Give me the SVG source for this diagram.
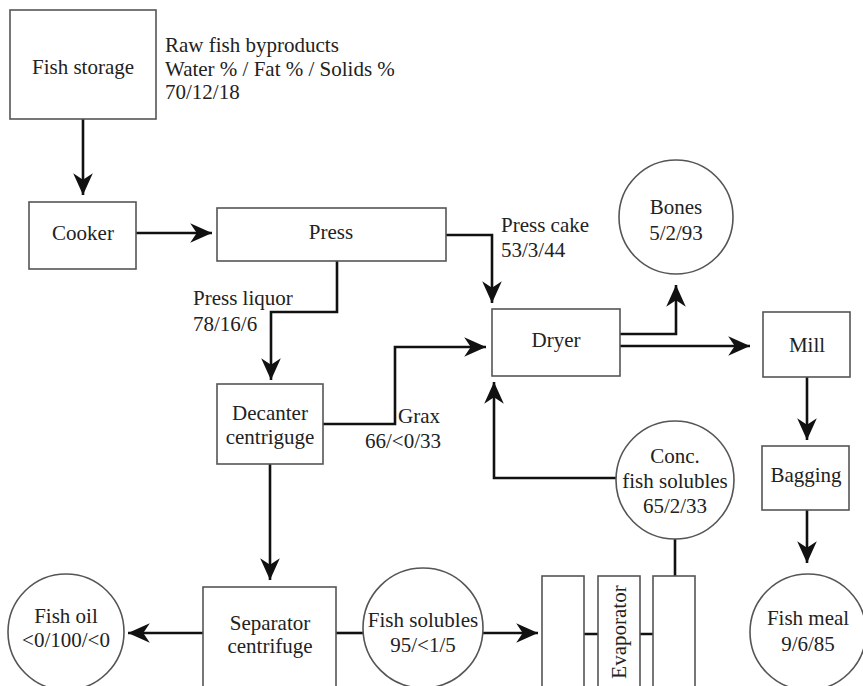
<svg xmlns="http://www.w3.org/2000/svg" width="863" height="686" viewBox="0 0 863 686">
<defs>
<style>
.box{fill:#fff;stroke:#555;stroke-width:1.6}
.c{fill:none;stroke:#111;stroke-width:2.6}
.t{font-family:"Liberation Serif","Times New Roman","DejaVu Serif",serif;font-size:21px;fill:#222}
.m{text-anchor:middle}
</style>
<marker id="ah" markerUnits="userSpaceOnUse" markerWidth="24" markerHeight="24" viewBox="-20 -10 22 20" refX="0" refY="0" orient="auto">
<path d="M0,0 L-20,-9 L-14,0 L-20,9 Z" fill="#111"/>
</marker>
</defs>
<rect width="863" height="686" fill="#fff"/>
<g id="connectors">
<path class="c" d="M83,119 V195" marker-end="url(#ah)"/>
<path class="c" d="M136,233 H212" marker-end="url(#ah)"/>
<path class="c" d="M446,235 H492 V303" marker-end="url(#ah)"/>
<path class="c" d="M337,261 V312 H271 V380" marker-end="url(#ah)"/>
<path class="c" d="M323,424 H395 V347 H486" marker-end="url(#ah)"/>
<path class="c" d="M620,334 H676 V285" marker-end="url(#ah)"/>
<path class="c" d="M620,346 H750" marker-end="url(#ah)"/>
<path class="c" d="M807,377 V440" marker-end="url(#ah)"/>
<path class="c" d="M807,510 V563" marker-end="url(#ah)"/>
<path class="c" d="M616,478 H494 V382" marker-end="url(#ah)"/>
<path class="c" d="M270,464 V580" marker-end="url(#ah)"/>
<path class="c" d="M203,633 H128" marker-end="url(#ah)"/>
<path class="c" d="M336,633 H363" stroke-width="2"/>
<path class="c" d="M483,633 H538" marker-end="url(#ah)"/>
<path class="c" d="M675,539 V576" stroke-width="2"/>
<path class="c" d="M584,634 H598 M640,634 H653" stroke-width="2"/>
</g>
<g id="fish-storage"><rect class="box" x="10" y="10" width="146" height="109"/><text class="t m" x="83" y="74">Fish storage</text></g>
<g id="raw-label"><text class="t" x="165" y="52">Raw fish byproducts</text><text class="t" x="165" y="76">Water % / Fat % / Solids %</text><text class="t" x="165" y="99">70/12/18</text></g>
<g id="cooker"><rect class="box" x="29" y="202" width="107" height="67"/><text class="t m" x="83" y="240">Cooker</text></g>
<g id="press"><rect class="box" x="217" y="208" width="229" height="53"/><text class="t m" x="331" y="239">Press</text></g>
<g id="press-cake-label"><text class="t" x="501" y="232">Press cake</text><text class="t" x="501" y="257">53/3/44</text></g>
<g id="bones"><circle class="box" cx="676" cy="217" r="57"/><text class="t m" x="676" y="214">Bones</text><text class="t m" x="676" y="240">5/2/93</text></g>
<g id="dryer"><rect class="box" x="492" y="309" width="128" height="67"/><text class="t m" x="556" y="347">Dryer</text></g>
<g id="mill"><rect class="box" x="763" y="312" width="87" height="65"/><text class="t m" x="807" y="352">Mill</text></g>
<g id="press-liquor-label"><text class="t" x="193" y="305">Press liquor</text><text class="t" x="193" y="331">78/16/6</text></g>
<g id="decanter"><rect class="box" x="217" y="384" width="106" height="80"/><text class="t m" x="270" y="420">Decanter</text><text class="t m" x="270" y="444">centriguge</text></g>
<g id="grax-label"><text class="t" x="398" y="423">Grax</text><text class="t" x="365" y="448">66/&lt;0/33</text></g>
<g id="conc"><circle class="box" cx="675" cy="480" r="59"/><text class="t m" x="675" y="463">Conc.</text><text class="t m" x="675" y="488">fish solubles</text><text class="t m" x="675" y="513">65/2/33</text></g>
<g id="bagging"><rect class="box" x="762" y="446" width="87" height="64"/><text class="t m" x="806" y="482">Bagging</text></g>
<g id="fish-meal"><circle class="box" cx="808" cy="632" r="58"/><text class="t m" x="808" y="625">Fish meal</text><text class="t m" x="808" y="651">9/6/85</text></g>
<g id="fish-oil"><circle class="box" cx="66" cy="632" r="58"/><text class="t m" x="66" y="623">Fish oil</text><text class="t m" x="66" y="647">&lt;0/100/&lt;0</text></g>
<g id="separator"><rect class="box" x="203" y="587" width="133" height="110"/><text class="t m" x="270" y="630">Separator</text><text class="t m" x="270" y="653">centrifuge</text></g>
<g id="fish-solubles"><circle class="box" cx="423" cy="628" r="60"/><text class="t m" x="423" y="627">Fish solubles</text><text class="t m" x="423" y="652">95/&lt;1/5</text></g>
<g id="evaporator">
<rect class="box" x="542" y="576" width="42" height="120"/>
<rect class="box" x="598" y="576" width="42" height="120"/>
<rect class="box" x="653" y="576" width="42" height="120"/>
<text class="t m" transform="translate(626,632) rotate(-90)" x="0" y="0">Evaporator</text>
</g>
</svg>
